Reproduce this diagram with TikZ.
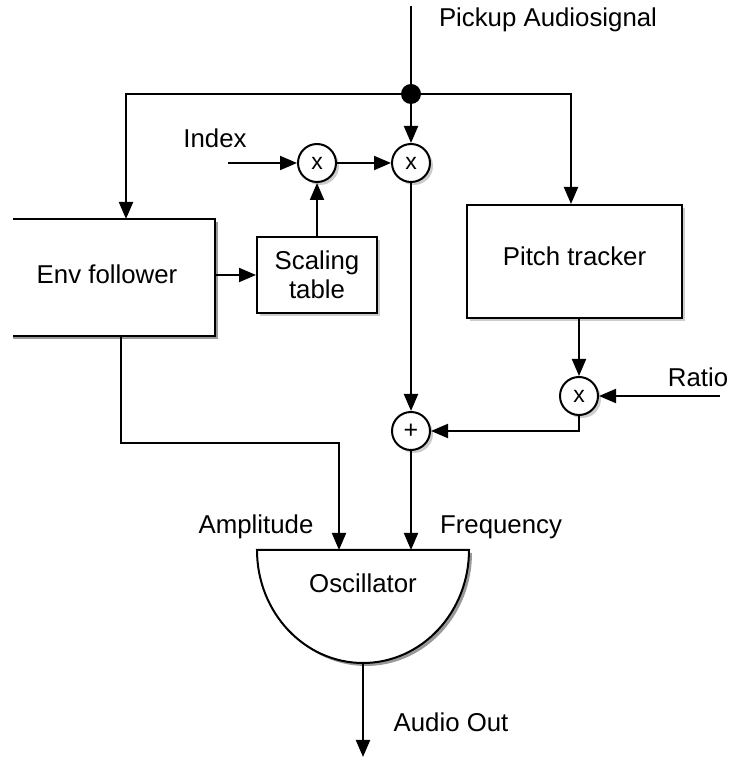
\documentclass[tikz,border=0pt]{standalone}
\usepackage{fontspec}
\setmainfont{Liberation Sans}
\usetikzlibrary{arrows.meta,shadows,calc}
\begin{document}
\begin{tikzpicture}[x=1pt,y=1pt, line width=2pt,
 >={Triangle[length=17pt,width=14pt]},
 lbl/.style={font=\fontsize{25.8}{31}\selectfont, inner sep=0pt},
 shd/.style={drop shadow={shadow xshift=3pt,shadow yshift=-3pt,opacity=0.4}},
 blk/.style={draw, fill=white, shd, inner sep=0pt, align=center, font=\fontsize{25.8}{29}\selectfont},
 op/.style={circle, draw, fill=white, shd, minimum size=38pt, inner sep=0pt, font=\fontsize{23}{23}\selectfont}]
\useasboundingbox (0,0) rectangle (729,758);

% blocks
\node[minimum width=214pt, minimum height=115pt, inner sep=0pt] (envf) at (107,480.5) {};
\fill[black, opacity=0.4] ($(envf.north east)+(3,-3)$) rectangle ($(envf.south west)+(14,-3)$);
\fill[white] (envf.north east) rectangle (envf.south west);
\node[lbl] at (107,484) {Env follower};
\draw ($(envf.north west)+(14,0)$) -- (envf.north east) -- (envf.south east) -- ($(envf.south west)+(14,0)$);
\node[blk, minimum width=120pt, minimum height=76pt] (scal) at (317,483) {Scaling\\table};
\node[blk, minimum width=215pt, minimum height=113pt] (pitch) at (574.5,496.5) {};
\node[lbl] at (574.5,502) {Pitch tracker};

% operators
\node[op] (m1) at (317,595) {x};
\node[op] (m2) at (411,595) {x};
\node[op] (m3) at (579,362) {x};
\node[op, font=\fontsize{25}{25}\selectfont] (p) at (411,327) {+};

% oscillator
\fill[black, opacity=0.4] (260,205) -- (472,205) arc[start angle=0,end angle=-180,x radius=106pt,y radius=113pt] -- cycle;
\draw[fill=white] (257,208) -- (469,208) arc[start angle=0,end angle=-180,x radius=106pt,y radius=113pt] -- cycle;
\node[lbl] (osc) at (363,175) {Oscillator};

% coordinates
\coordinate (top) at (411,752);
\coordinate (J) at (411,664);
\coordinate (L) at (126,664);
\coordinate (R) at (571,664);
\coordinate (idx) at (228,595);
\coordinate (ratio) at (720,362);
\coordinate (oscA) at (339,208);
\coordinate (oscF) at (411,208);
\coordinate (oscB) at (363,95);
\coordinate (out) at (363,1);
\coordinate (amp1) at (121,315);

% labels
\node[lbl] at (548,738) {Pickup Audiosignal};
\node[lbl] at (215,620) {Index};
\node[lbl] at (698,381) {Ratio};
\node[lbl] at (256,231) {Amplitude};
\node[lbl] at (501,231) {Frequency};
\node[lbl] at (451,36) {Audio Out};

% connectors
\draw (top) -- (J);
\draw[->] (J) -- (L) -- (L |- envf.north);
\draw[->] (J) -- (R) -- (R |- pitch.north);
\draw[->] (J) -- (m2);
\fill (J) circle (10pt);
\draw[->] (idx) -- (m1);
\draw[->] (m1) -- (m2);
\draw[->] (scal) -- (m1);
\draw[->] (envf.east |- scal.west) -- (scal.west);
\draw[->] (pitch.south -| m3) -- (m3);
\draw[->] (ratio) -- (m3);
\draw[->] (m3) |- (p);
\draw[->] (m2) -- (p);
\draw[->] (p) -- (oscF);
\draw[->] (envf.south -| amp1) -- (amp1) -- (amp1 -| oscA) -- (oscA);
\draw[->] (oscB) -- (out);
\end{tikzpicture}
\end{document}
